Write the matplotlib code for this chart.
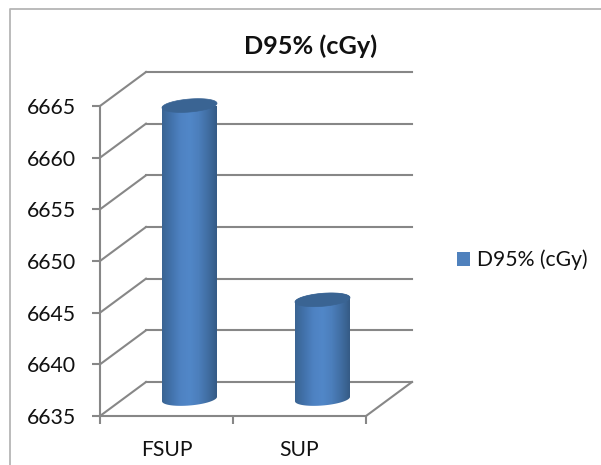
import numpy as np
import matplotlib
matplotlib.use('Agg')
import matplotlib.pyplot as plt
from matplotlib.colors import LinearSegmentedColormap
from matplotlib.lines import Line2D
from matplotlib.patches import Patch, PathPatch, Polygon
from matplotlib.path import Path

categories = ['FSUP', 'SUP']
values = [6663.4, 6644.6]
y_ticks = [6635, 6640, 6645, 6650, 6655, 6660, 6665]
series_name = 'D95% (cGy)'

plt.rcParams['font.family'] = ['Lato', 'DejaVu Sans']

GREY = '#878787'
TEXT = '#111111'

W, H = 601, 465
fig = plt.figure(figsize=(W / 100, H / 100), dpi=100)
fig.patch.set_facecolor('white')

# the front plane of the fake 3D box is the real axes
ax = fig.add_axes([100 / W, (H - 416) / H, 266 / W, 310 / H])
ax.set_xlim(0, len(categories))
ax.set_ylim(y_ticks[0], y_ticks[-1])
ax.patch.set_alpha(0)

px_x = len(categories) / 266
px_y = (y_ticks[-1] - y_ticks[0]) / 310
depth_x = 46 * px_x
depth_y = 34 * px_y

# back wall gridlines, and the diagonals running to the front axis
for tick in y_ticks:
    ax.plot([depth_x, len(categories) + depth_x], [tick + depth_y] * 2,
            color=GREY, lw=1.5, clip_on=False, zorder=1)
    ax.plot([0, depth_x], [tick, tick + depth_y],
            color=GREY, lw=1.5, clip_on=False, zorder=1)
ax.plot([len(categories), len(categories) + depth_x],
        [y_ticks[0], y_ticks[0] + depth_y],
        color=GREY, lw=1.5, clip_on=False, zorder=1)

cyl_cmap = LinearSegmentedColormap.from_list(
    'cyl', ['#3a6492', '#4272ab', '#4e82c2', '#5187c8', '#4c7fbc', '#416ea3', '#355b85'])
gradient = np.linspace(0, 1, 256).reshape(1, -1)


def ellipse_points(cx, cy, t):
    # slightly sheared ellipse, right side higher than the left
    a, b, shear = 27.5, 6.5, 2.2
    xs = cx + a * np.cos(t) * px_x
    ys = cy + (b * np.sin(t) + shear * np.cos(t)) * px_y
    return np.column_stack([xs, ys])


# cylinders sit in the middle of the box depth
for i, val in enumerate(values):
    cx = i + 0.5 + depth_x / 2
    base = y_ticks[0] + depth_y / 2
    top = val + depth_y / 2
    lower = ellipse_points(cx, base, np.linspace(np.pi, 2 * np.pi, 60))
    upper = ellipse_points(cx, top, np.linspace(0, np.pi, 60))
    verts = np.vstack([lower, upper, lower[:1]])
    codes = [Path.MOVETO] + [Path.LINETO] * (len(verts) - 2) + [Path.CLOSEPOLY]
    body = PathPatch(Path(verts, codes), fc='none', ec='none',
                     transform=ax.transData)
    ax.add_patch(body)
    body.set_clip_on(False)
    im = ax.imshow(gradient, cmap=cyl_cmap, aspect='auto', zorder=3,
                   extent=[cx - 27.5 * px_x, cx + 27.5 * px_x,
                           base - 10 * px_y, top + 10 * px_y])
    im.set_clip_path(body)
    cap = ellipse_points(cx, top, np.linspace(0, 2 * np.pi, 120))
    ax.add_patch(Polygon(cap, closed=True, fc='#3a6493', ec='#3a6493', lw=0.5,
                         zorder=4, clip_on=False))

# imshow resets the limits
ax.set_xlim(0, len(categories))
ax.set_ylim(y_ticks[0], y_ticks[-1])

for side in ['top', 'right']:
    ax.spines[side].set_visible(False)
for side in ['left', 'bottom']:
    ax.spines[side].set_color(GREY)
    ax.spines[side].set_linewidth(1.5)

ax.set_yticks(y_ticks)
ax.set_xticks(range(len(categories) + 1))
ax.set_xticklabels([])
ax.set_xticks([i + 0.5 for i in range(len(categories))], categories, minor=True)
ax.tick_params(axis='y', which='major', length=6, width=1.5, color=GREY,
               labelsize=15.3, labelcolor=TEXT, pad=11)
ax.tick_params(axis='x', which='major', length=6, width=1.5, color=GREY)
ax.tick_params(axis='x', which='minor', length=0, labelsize=15.2,
               labelcolor=TEXT, pad=17)

fig.text(311 / W, 1 - 46 / H, series_name, ha='center', va='center',
         fontsize=18.2, fontweight='bold', color=TEXT)

handle = Patch(fc='#4f81bd', ec='none')
fig.legend([handle], [series_name], loc='center left',
           bbox_to_anchor=(457 / W, 1 - 260 / H), frameon=False,
           fontsize=15.2, labelcolor=TEXT, handlelength=0.62, handleheight=0.62,
           handletextpad=0.34, borderpad=0, borderaxespad=0)

# chart area border, only top and left are in frame
fig.add_artist(Line2D([9.5 / W, 9.5 / W, 1], [0, 1 - 9 / H, 1 - 9 / H],
                      color='#b5b5b5', lw=1.3))

fig.savefig('out.png', dpi=100)
plt.close()
